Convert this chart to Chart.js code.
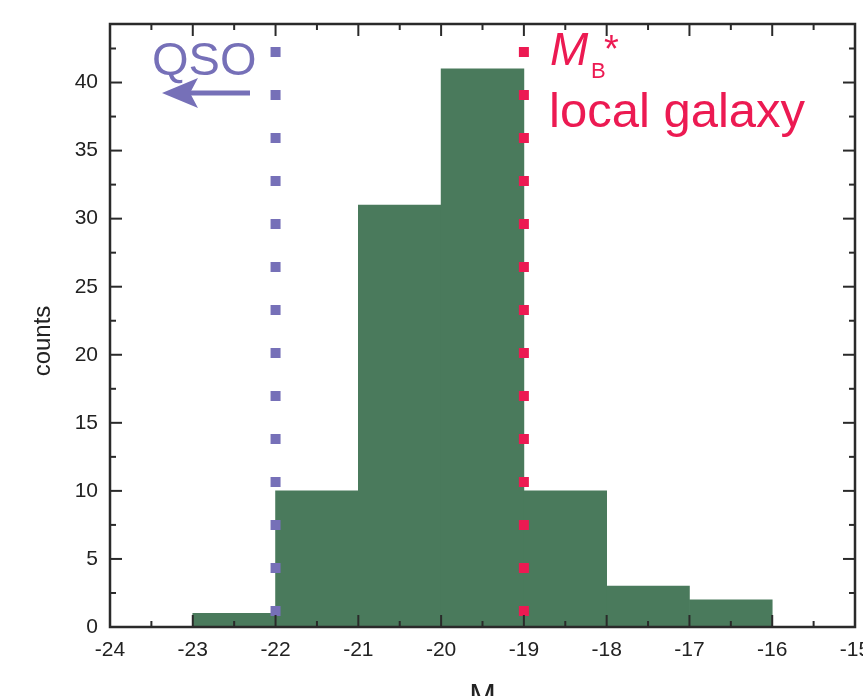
<!DOCTYPE html>
<html>
<head>
<meta charset="utf-8">
<script src="https://cdn.jsdelivr.net/npm/chart.js@4"></script>
<style>
  html, body { margin: 0; padding: 0; background: #fff; overflow: hidden; }
  #wrap { width: 863px; height: 696px; }
</style>
</head>
<body>
<div id="wrap"><canvas id="chart" width="863" height="696"></canvas></div>
<script>
// histogram bin edges (magnitude) and counts per bin
const binEdges = [-23, -22, -21, -20, -19, -18, -17, -16];
const counts = [1, 10, 31, 41, 10, 3, 2];

// reference magnitudes marked by dotted lines
const qsoMag = -22;
const mbStarMag = -19;

// axis ticks
const xTicks = [-24, -23, -22, -21, -20, -19, -18, -17, -16, -15];
const yTicks = [0, 5, 10, 15, 20, 25, 30, 35, 40];
const xRange = [-24, -15];
const yRange = [0, 44.3];

const green = '#4a7a5c';
const purple = '#7670b8';
const red = '#ec1a52';
const ink = '#2a2a2a';

const barData = counts.map((c, i) => ({ x: (binEdges[i] + binEdges[i + 1]) / 2, y: c }));
const vline = v => [{ x: v, y: yRange[0] }, { x: v, y: yRange[1] }];

const frameAndText = {
    id: 'frameAndText',
    afterDraw(chart) {
        const ctx = chart.ctx;
        const a = chart.chartArea;
        const xs = chart.scales.x, ys = chart.scales.y;
        ctx.save();
        ctx.strokeStyle = ink;

        // inward ticks on all four sides
        ctx.lineWidth = 2;
        const tick = (x1, y1, x2, y2) => { ctx.beginPath(); ctx.moveTo(x1, y1); ctx.lineTo(x2, y2); ctx.stroke(); };
        xTicks.forEach((v, i) => {
            const px = xs.getPixelForValue(v);
            tick(px, a.bottom, px, a.bottom - 12);
            tick(px, a.top, px, a.top + 12);
            if (i < xTicks.length - 1) {
                const mx = xs.getPixelForValue(v + 0.5);
                tick(mx, a.bottom, mx, a.bottom - 6);
                tick(mx, a.top, mx, a.top + 6);
            }
        });
        yTicks.forEach(v => {
            const py = ys.getPixelForValue(v);
            tick(a.left, py, a.left + 12, py);
            tick(a.right, py, a.right - 12, py);
            const m = v + 2.5;
            if (m < yRange[1]) {
                const my = ys.getPixelForValue(m);
                tick(a.left, my, a.left + 6, my);
                tick(a.right, my, a.right - 6, my);
            }
        });

        // frame
        ctx.lineWidth = 2.5;
        ctx.strokeRect(a.left, a.top, a.right - a.left, a.bottom - a.top);

        // axis titles
        ctx.fillStyle = '#222';
        ctx.font = '24px "Liberation Sans", Arial, sans-serif';
        ctx.textAlign = 'center';
        ctx.textBaseline = 'middle';
        ctx.save();
        ctx.translate(43, 341);
        ctx.rotate(-Math.PI / 2);
        ctx.fillText('counts', 0, 0);
        ctx.restore();
        ctx.textBaseline = 'alphabetic';
        ctx.font = '32px "Liberation Sans", Arial, sans-serif';
        ctx.fillText('M', (a.left + a.right) / 2, 706);

        // QSO label and arrow
        ctx.fillStyle = purple;
        ctx.strokeStyle = purple;
        ctx.textAlign = 'left';
        ctx.font = '47px "Liberation Sans", Arial, sans-serif';
        ctx.fillText('QSO', 152, 75);
        ctx.lineWidth = 5;
        ctx.beginPath();
        ctx.moveTo(250, 93);
        ctx.lineTo(190, 93);
        ctx.stroke();
        ctx.beginPath();
        ctx.moveTo(162, 93);
        ctx.lineTo(198, 78);
        ctx.lineTo(190, 93);
        ctx.lineTo(198, 108);
        ctx.closePath();
        ctx.fill();

        // M_B* local galaxy label
        ctx.fillStyle = red;
        ctx.font = 'italic 46px "Liberation Sans", Arial, sans-serif';
        ctx.fillText('M', 550, 65);
        ctx.font = '22px "Liberation Sans", Arial, sans-serif';
        ctx.fillText('B', 591, 78);
        ctx.font = '38px "Liberation Sans", Arial, sans-serif';
        ctx.fillText('*', 604, 62);
        ctx.font = '49px "Liberation Sans", Arial, sans-serif';
        ctx.fillText('local galaxy', 549, 127);
        ctx.restore();
    }
};

new Chart(document.getElementById('chart'), {
    type: 'bar',
    data: {
        datasets: [
            {
                type: 'line',
                data: vline(qsoMag),
                borderColor: purple,
                borderWidth: 10,
                borderDash: [10, 33],
                borderDashOffset: 32,
                pointRadius: 0,
                order: 0
            },
            {
                type: 'line',
                data: vline(mbStarMag),
                borderColor: red,
                borderWidth: 10,
                borderDash: [10, 33],
                borderDashOffset: 32,
                pointRadius: 0,
                order: 0
            },
            {
                type: 'bar',
                data: barData,
                backgroundColor: green,
                borderWidth: 0,
                barPercentage: 1,
                categoryPercentage: 1,
                order: 1
            }
        ]
    },
    options: {
        responsive: false,
        animation: false,
        events: [],
        layout: { padding: { top: 24, right: 8, left: 0, bottom: 0 }, autoPadding: false },
        plugins: { legend: { display: false }, tooltip: { enabled: false } },
        scales: {
            x: {
                type: 'linear',
                offset: false,
                min: xRange[0],
                max: xRange[1],
                afterBuildTicks: s => { s.ticks = xTicks.map(v => ({ value: v })); },
                afterFit: s => { s.height = 69; s.paddingLeft = 0; s.paddingRight = 0; },
                grid: { display: false, drawTicks: false, offset: false },
                border: { display: false },
                ticks: {
                    padding: 11,
                    color: '#222',
                    maxRotation: 0,
                    autoSkip: false,
                    font: { family: '"Liberation Sans", Arial, sans-serif', size: 21 }
                }
            },
            y: {
                min: yRange[0],
                max: yRange[1],
                afterBuildTicks: s => { s.ticks = yTicks.map(v => ({ value: v })); },
                afterFit: s => { s.width = 110; s.paddingTop = 0; s.paddingBottom = 0; },
                grid: { display: false, drawTicks: false },
                border: { display: false },
                ticks: {
                    padding: 12,
                    color: '#222',
                    autoSkip: false,
                    font: { family: '"Liberation Sans", Arial, sans-serif', size: 21 }
                }
            }
        }
    },
    plugins: [frameAndText]
});
</script>
</body>
</html>
